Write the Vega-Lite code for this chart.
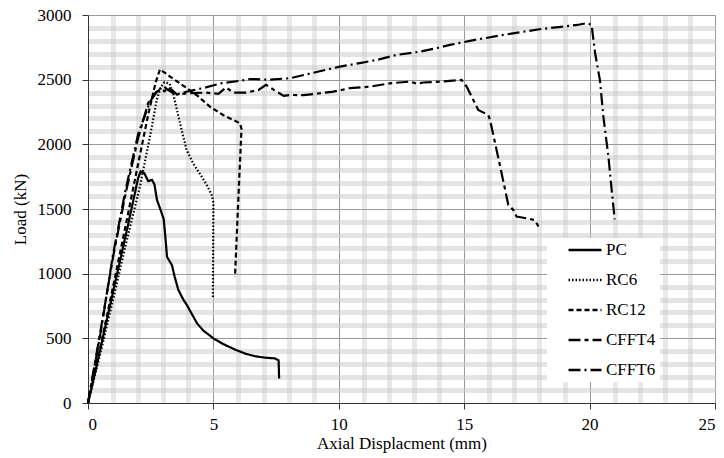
{
  "$schema": "https://vega.github.io/schema/vega-lite/v6.json",
  "autosize": "none",
  "width": 627,
  "height": 388,
  "padding": {"left": 88, "top": 15, "right": 9, "bottom": 55},
  "background": "white",
  "config": {
    "view": {"stroke": null},
    "font": "Liberation Serif"
  },
  "data": {"values": [
    {"s":"PC","i":0,"x":0,"y":0},{"s":"PC","i":1,"x":0.3,"y":250},{"s":"PC","i":2,"x":1.0,"y":860},{"s":"PC","i":3,"x":1.6,"y":1380},{"s":"PC","i":4,"x":2.0,"y":1740},{"s":"PC","i":5,"x":2.1,"y":1790},{"s":"PC","i":6,"x":2.25,"y":1775},{"s":"PC","i":7,"x":2.4,"y":1715},{"s":"PC","i":8,"x":2.55,"y":1725},{"s":"PC","i":9,"x":2.65,"y":1690},{"s":"PC","i":10,"x":2.75,"y":1570},{"s":"PC","i":11,"x":2.9,"y":1490},{"s":"PC","i":12,"x":3.02,"y":1420},{"s":"PC","i":13,"x":3.1,"y":1250},{"s":"PC","i":14,"x":3.15,"y":1130},{"s":"PC","i":15,"x":3.35,"y":1065},{"s":"PC","i":16,"x":3.45,"y":980},{"s":"PC","i":17,"x":3.6,"y":875},{"s":"PC","i":18,"x":3.8,"y":800},{"s":"PC","i":19,"x":3.95,"y":755},{"s":"PC","i":20,"x":4.35,"y":615},{"s":"PC","i":21,"x":4.6,"y":560},{"s":"PC","i":22,"x":5.0,"y":500},{"s":"PC","i":23,"x":5.4,"y":455},{"s":"PC","i":24,"x":5.9,"y":410},{"s":"PC","i":25,"x":6.3,"y":380},{"s":"PC","i":26,"x":6.7,"y":360},{"s":"PC","i":27,"x":7.1,"y":350},{"s":"PC","i":28,"x":7.45,"y":345},{"s":"PC","i":29,"x":7.6,"y":330},{"s":"PC","i":30,"x":7.62,"y":190},
    {"s":"RC6","i":0,"x":0,"y":0},{"s":"RC6","i":1,"x":0.5,"y":390},{"s":"RC6","i":2,"x":1.0,"y":800},{"s":"RC6","i":3,"x":1.5,"y":1220},{"s":"RC6","i":4,"x":2.07,"y":1673},{"s":"RC6","i":5,"x":2.5,"y":2090},{"s":"RC6","i":6,"x":2.74,"y":2343},{"s":"RC6","i":7,"x":2.9,"y":2440},{"s":"RC6","i":8,"x":3.05,"y":2480},{"s":"RC6","i":9,"x":3.25,"y":2470},{"s":"RC6","i":10,"x":3.4,"y":2390},{"s":"RC6","i":11,"x":3.67,"y":2163},{"s":"RC6","i":12,"x":3.93,"y":1957},{"s":"RC6","i":13,"x":4.2,"y":1850},{"s":"RC6","i":14,"x":4.5,"y":1760},{"s":"RC6","i":15,"x":4.75,"y":1680},{"s":"RC6","i":16,"x":4.93,"y":1610},{"s":"RC6","i":17,"x":5.0,"y":1550},{"s":"RC6","i":18,"x":4.99,"y":1200},{"s":"RC6","i":19,"x":4.98,"y":820},
    {"s":"RC12","i":0,"x":0,"y":0},{"s":"RC12","i":1,"x":0.5,"y":440},{"s":"RC12","i":2,"x":1.0,"y":900},{"s":"RC12","i":3,"x":1.5,"y":1370},{"s":"RC12","i":4,"x":2.0,"y":1850},{"s":"RC12","i":5,"x":2.4,"y":2230},{"s":"RC12","i":6,"x":2.7,"y":2480},{"s":"RC12","i":7,"x":2.87,"y":2580},{"s":"RC12","i":8,"x":3.3,"y":2520},{"s":"RC12","i":9,"x":3.9,"y":2440},{"s":"RC12","i":10,"x":4.4,"y":2370},{"s":"RC12","i":11,"x":4.86,"y":2292},{"s":"RC12","i":12,"x":5.4,"y":2225},{"s":"RC12","i":13,"x":6.06,"y":2163},{"s":"RC12","i":14,"x":6.12,"y":2120},{"s":"RC12","i":15,"x":6.0,"y":1600},{"s":"RC12","i":16,"x":5.86,"y":975},
    {"s":"CFFT4","i":0,"x":0,"y":0},{"s":"CFFT4","i":1,"x":0.5,"y":560},{"s":"CFFT4","i":2,"x":1.0,"y":1130},{"s":"CFFT4","i":3,"x":1.5,"y":1620},{"s":"CFFT4","i":4,"x":2.0,"y":2050},{"s":"CFFT4","i":5,"x":2.4,"y":2320},{"s":"CFFT4","i":6,"x":2.7,"y":2400},{"s":"CFFT4","i":7,"x":2.9,"y":2430},{"s":"CFFT4","i":8,"x":3.05,"y":2410},{"s":"CFFT4","i":9,"x":3.2,"y":2440},{"s":"CFFT4","i":10,"x":3.35,"y":2420},{"s":"CFFT4","i":11,"x":3.55,"y":2385},{"s":"CFFT4","i":12,"x":4.0,"y":2395},{"s":"CFFT4","i":13,"x":4.7,"y":2400},{"s":"CFFT4","i":14,"x":5.2,"y":2390},{"s":"CFFT4","i":15,"x":5.5,"y":2440},{"s":"CFFT4","i":16,"x":5.8,"y":2400},{"s":"CFFT4","i":17,"x":6.3,"y":2400},{"s":"CFFT4","i":18,"x":6.8,"y":2420},{"s":"CFFT4","i":19,"x":7.1,"y":2460},{"s":"CFFT4","i":20,"x":7.5,"y":2410},{"s":"CFFT4","i":21,"x":7.8,"y":2375},{"s":"CFFT4","i":22,"x":8.06,"y":2382},{"s":"CFFT4","i":23,"x":8.6,"y":2380},{"s":"CFFT4","i":24,"x":9.25,"y":2395},{"s":"CFFT4","i":25,"x":9.78,"y":2408},{"s":"CFFT4","i":26,"x":10.45,"y":2434},{"s":"CFFT4","i":27,"x":11.24,"y":2446},{"s":"CFFT4","i":28,"x":12.04,"y":2472},{"s":"CFFT4","i":29,"x":12.84,"y":2485},{"s":"CFFT4","i":30,"x":13.1,"y":2470},{"s":"CFFT4","i":31,"x":13.37,"y":2478},{"s":"CFFT4","i":32,"x":14.04,"y":2485},{"s":"CFFT4","i":33,"x":14.9,"y":2498},{"s":"CFFT4","i":34,"x":15.1,"y":2446},{"s":"CFFT4","i":35,"x":15.56,"y":2266},{"s":"CFFT4","i":36,"x":15.96,"y":2227},{"s":"CFFT4","i":37,"x":16.03,"y":2189},{"s":"CFFT4","i":38,"x":16.4,"y":1860},{"s":"CFFT4","i":39,"x":16.76,"y":1531},{"s":"CFFT4","i":40,"x":16.96,"y":1493},{"s":"CFFT4","i":41,"x":17.09,"y":1441},{"s":"CFFT4","i":42,"x":17.49,"y":1428},{"s":"CFFT4","i":43,"x":17.82,"y":1415},{"s":"CFFT4","i":44,"x":17.96,"y":1364},
    {"s":"CFFT6","i":0,"x":0,"y":0},{"s":"CFFT6","i":1,"x":0.5,"y":540},{"s":"CFFT6","i":2,"x":1.0,"y":1150},{"s":"CFFT6","i":3,"x":1.5,"y":1650},{"s":"CFFT6","i":4,"x":2.0,"y":2080},{"s":"CFFT6","i":5,"x":2.47,"y":2330},{"s":"CFFT6","i":6,"x":2.8,"y":2420},{"s":"CFFT6","i":7,"x":3.0,"y":2450},{"s":"CFFT6","i":8,"x":3.2,"y":2420},{"s":"CFFT6","i":9,"x":3.5,"y":2385},{"s":"CFFT6","i":10,"x":4.0,"y":2410},{"s":"CFFT6","i":11,"x":4.7,"y":2440},{"s":"CFFT6","i":12,"x":5.26,"y":2470},{"s":"CFFT6","i":13,"x":6.0,"y":2490},{"s":"CFFT6","i":14,"x":6.5,"y":2505},{"s":"CFFT6","i":15,"x":7.2,"y":2500},{"s":"CFFT6","i":16,"x":8.06,"y":2511},{"s":"CFFT6","i":17,"x":8.8,"y":2545},{"s":"CFFT6","i":18,"x":9.45,"y":2575},{"s":"CFFT6","i":19,"x":10.05,"y":2601},{"s":"CFFT6","i":20,"x":10.9,"y":2630},{"s":"CFFT6","i":21,"x":11.5,"y":2652},{"s":"CFFT6","i":22,"x":12.3,"y":2691},{"s":"CFFT6","i":23,"x":13.24,"y":2717},{"s":"CFFT6","i":24,"x":14.04,"y":2750},{"s":"CFFT6","i":25,"x":14.43,"y":2769},{"s":"CFFT6","i":26,"x":15.5,"y":2810},{"s":"CFFT6","i":27,"x":16.56,"y":2846},{"s":"CFFT6","i":28,"x":18.0,"y":2890},{"s":"CFFT6","i":29,"x":19.5,"y":2923},{"s":"CFFT6","i":30,"x":19.88,"y":2937},{"s":"CFFT6","i":31,"x":20.08,"y":2923},{"s":"CFFT6","i":32,"x":20.22,"y":2704},{"s":"CFFT6","i":33,"x":20.41,"y":2498},{"s":"CFFT6","i":34,"x":20.55,"y":2214},{"s":"CFFT6","i":35,"x":20.75,"y":1905},{"s":"CFFT6","i":36,"x":20.88,"y":1647},{"s":"CFFT6","i":37,"x":21.0,"y":1420}
  ]},
  "resolve": {"axis": {"x": "independent", "y": "independent"}},
  "layer": [
    {
      "mark": {"type": "line", "strokeOpacity": 0},
      "encoding": {
        "x": {"field": "x", "type": "quantitative",
              "scale": {"domain": [0, 25], "nice": false, "zero": false},
              "axis": {"orient": "bottom", "values": [1,2,3,4,6,7,8,9,11,12,13,14,16,17,18,19,21,22,23,24],
                       "grid": true, "gridColor": "#d2d2d2", "gridWidth": 5, "gridDash": [1, 1],
                       "labels": false, "ticks": false, "domain": false, "title": null}},
        "y": {"field": "y", "type": "quantitative",
              "scale": {"domain": [0, 3000], "nice": false, "zero": false},
              "axis": {"orient": "left", "values": [100,200,300,400,600,700,800,900,1100,1200,1300,1400,1600,1700,1800,1900,2100,2200,2300,2400,2600,2700,2800,2900],
                       "grid": true, "gridColor": "#c8c8c8", "gridWidth": 5, "gridDash": [1, 1],
                       "labels": false, "ticks": false, "domain": false, "title": null}},
        "detail": {"field": "s"},
        "order": {"field": "i"}
      }
    },
    {
      "mark": {"type": "line", "color": "black", "strokeWidth": 2.2, "strokeCap": "butt"},
      "encoding": {
        "x": {"field": "x", "type": "quantitative",
              "scale": {"domain": [0, 25], "nice": false, "zero": false},
              "axis": {"orient": "bottom", "values": [0,5,10,15,20,25], "grid": true, "gridColor": "#999999", "gridWidth": 1,
                       "domainColor": "#333333", "tickColor": "#333333", "tickSize": 6, "format": "d",
                       "labelFont": "Liberation Serif", "labelFontSize": 17, "labelColor": "black", "labelPadding": 7,
                       "title": "Axial Displacment (mm)", "titleFont": "Liberation Serif", "titleFontSize": 17,
                       "titleFontWeight": "normal", "titleColor": "black", "titlePadding": 3}},
        "y": {"field": "y", "type": "quantitative",
              "scale": {"domain": [0, 3000], "nice": false, "zero": false},
              "axis": {"orient": "left", "values": [0,500,1000,1500,2000,2500,3000], "grid": true, "gridColor": "#999999", "gridWidth": 1,
                       "domainColor": "#333333", "tickColor": "#333333", "tickSize": 6, "format": "d",
                       "labelFont": "Liberation Serif", "labelFontSize": 17, "labelColor": "black", "labelPadding": 11,
                       "title": "Load (kN)", "titleFont": "Liberation Serif", "titleFontSize": 17,
                       "titleFontWeight": "normal", "titleColor": "black", "titlePadding": 8}},
        "strokeDash": {"field": "s", "type": "nominal",
                       "scale": {"domain": ["PC", "RC6", "RC12", "CFFT4", "CFFT6"],
                                 "range": [[1, 0], [1.5, 2], [5, 3], [12, 4, 4, 4], [12, 4, 2, 4]]},
                       "legend": {"orient": "none", "legendX": 459, "legendY": 223, "title": null,
                                  "fillColor": "white", "strokeColor": null, "padding": 4,
                                  "symbolType": "stroke", "symbolSize": 1089, "symbolStrokeWidth": 2.5,
                                  "symbolStrokeColor": "black", "symbolOffset": 16, "clipHeight": 16,
                                  "rowPadding": 13, "labelOffset": 3,
                                  "labelFont": "Liberation Serif", "labelFontSize": 17, "labelColor": "black"}},
        "detail": {"field": "s"},
        "order": {"field": "i"}
      }
    }
  ]
}
